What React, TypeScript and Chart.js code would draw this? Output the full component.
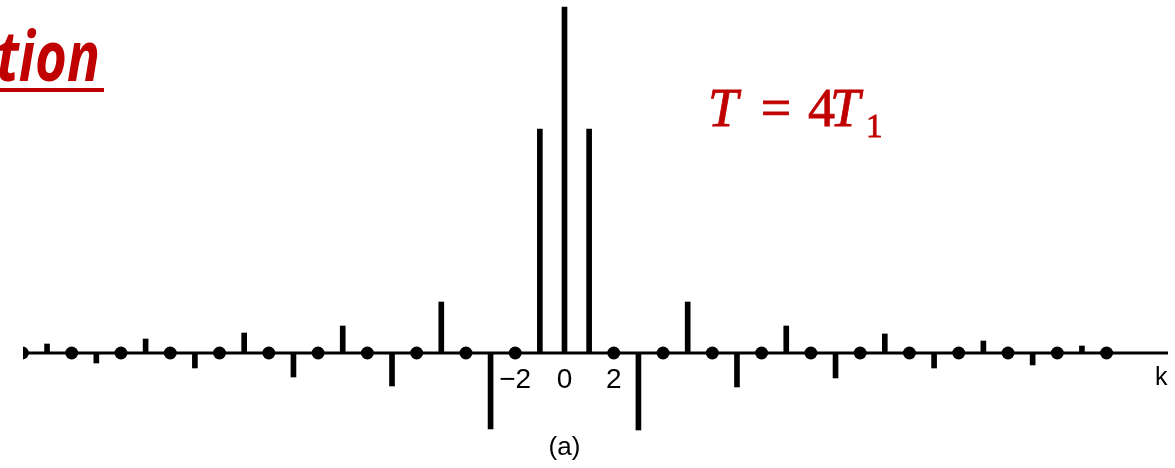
import React, { useEffect, useRef } from "react";
import { Chart, registerables } from "chart.js";

Chart.register(...registerables);

// Harmonic index k of each stem and its measured coefficient a_k
const stemK = [-21, -19, -17, -15, -13, -11, -9, -7, -5, -3, -1, 0, 1, 3, 5, 7, 9, 11, 13, 15, 17, 19, 21];
const stemValues = [
  0.013, -0.0145, 0.0202, -0.0217, 0.0289, -0.0347, 0.039, -0.0477, 0.0737, -0.1098, 0.3237,
  0.5,
  0.3237, -0.1113, 0.0737, -0.0491, 0.039, -0.0361, 0.0275, -0.0217, 0.0173, -0.0173, 0.0101,
];
// Harmonics where the coefficient is zero (drawn as dots)
const zeroK = [-22, -20, -18, -16, -14, -12, -10, -8, -6, -4, -2, 2, 4, 6, 8, 10, 12, 14, 16, 18, 20, 22];
const zeroValues = zeroK.map(() => 0);
// Tick labels under the axis
const tickValues = [-2, 0, 2];
const tickLabels = ["\u22122", "0", "2"];

const X_MIN = -21.976;
const X_MAX = 24.493;
const Y_MIN = -0.1662;
const Y_MAX = 0.5101;

const RED = "#c00000";

const decorPlugin = {
  id: "decor",
  beforeDatasetsDraw(chart: any) {
    const { ctx, chartArea, scales } = chart;
    const y0 = scales.y.getPixelForValue(0);
    ctx.save();
    ctx.strokeStyle = "#000";
    ctx.lineWidth = 3;
    ctx.beginPath();
    ctx.moveTo(chartArea.left, y0);
    ctx.lineTo(chartArea.right, y0);
    ctx.stroke();
    ctx.restore();
  },
  afterDraw(chart: any) {
    const { ctx, scales, chartArea } = chart;
    const xs = scales.x;
    ctx.save();
    // tick labels
    ctx.fillStyle = "#000";
    ctx.font = '28px "Liberation Sans", Arial, sans-serif';
    ctx.textAlign = "center";
    ctx.textBaseline = "alphabetic";
    tickValues.forEach((v, i) => {
      ctx.fillText(tickLabels[i], xs.getPixelForValue(v), 388);
    });
    // axis name
    ctx.font = '25px "Liberation Sans", Arial, sans-serif';
    ctx.textAlign = "left";
    ctx.fillText("k", chartArea.right - 13, 385);
    // caption
    ctx.font = '26px "Liberation Sans", Arial, sans-serif';
    ctx.textAlign = "center";
    ctx.fillText("(a)", xs.getPixelForValue(0), 455);

    // T = 4T1
    ctx.fillStyle = RED;
    ctx.strokeStyle = RED;
    ctx.lineWidth = 0.8;
    ctx.textAlign = "left";
    const put = (s: string, font: string, x: number, y: number, align: CanvasTextAlign = "left") => {
      ctx.font = font;
      ctx.textAlign = align;
      ctx.fillText(s, x, y);
      ctx.strokeText(s, x, y);
    };
    const serifI = 'italic 54px "Liberation Serif", "DejaVu Serif", serif';
    const serif = '54px "Liberation Serif", "DejaVu Serif", serif';
    put("T", serifI, 708, 126);
    put("=", serif, 776, 126, "center");
    put("4", serif, 808, 126);
    put("T", serifI, 830, 126);
    put("1", '33px "Liberation Serif", "DejaVu Serif", serif', 866, 137);

    // cropped slide title
    ctx.font = 'italic bold 70px "Open Sans", Lato, sans-serif';
    ctx.textAlign = "right";
    ctx.save();
    ctx.translate(100, 81);
    ctx.scale(0.78, 1);
    ctx.fillText("tion", 0, 0);
    ctx.restore();
    ctx.fillRect(0, 88, 104, 4);
    ctx.restore();
  },
};

export default function App() {
  const ref = useRef<HTMLCanvasElement | null>(null);
  useEffect(() => {
    if (!ref.current) return;
    const chart = new Chart(ref.current, {
      type: "bar",
      data: {
        datasets: [
          {
            type: "bar",
            data: stemK.map((k, i) => ({ x: k, y: stemValues[i] })),
            backgroundColor: "#000",
            borderWidth: 0,
            barThickness: 5,
          } as any,
          {
            type: "scatter",
            data: zeroK.map((k, i) => ({ x: k, y: zeroValues[i] })),
            backgroundColor: "#000",
            borderWidth: 0,
            pointRadius: 6.5,
            clip: 0,
          } as any,
        ],
      },
      options: {
        animation: false,
        responsive: false,
        layout: { autoPadding: false, padding: { left: 23, right: 7, top: 0, bottom: 0 } },
        scales: {
          x: { type: "linear", min: X_MIN, max: X_MAX, offset: false, display: false },
          y: { type: "linear", min: Y_MIN, max: Y_MAX, display: false },
        },
        plugins: {
          legend: { display: false },
          tooltip: { enabled: false },
          title: { display: false },
        },
      },
      plugins: [decorPlugin],
    });
    return () => chart.destroy();
  }, []);
  return (
    <div style={{ position: "fixed", left: 0, top: 0, width: 1175, height: 468, background: "#fff" }}>
      <canvas ref={ref} width={1175} height={468} />
    </div>
  );
}
